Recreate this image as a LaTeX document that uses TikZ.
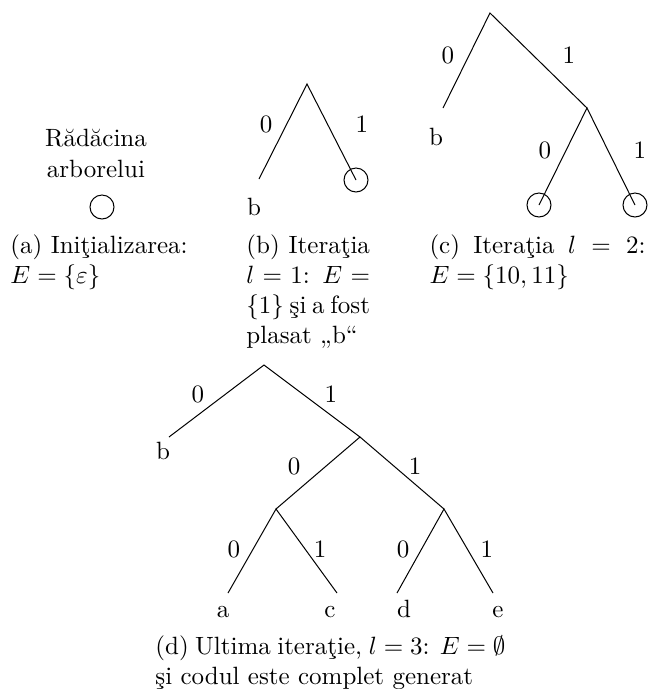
\documentclass[tikz,border=0pt]{standalone}
\usepackage{amssymb}
\begin{document}
\begin{tikzpicture}[x=0.4pt,y=-0.4pt,
  leafc/.style={draw,circle,minimum size=9.6pt,inner sep=0pt},
  lbl/.style={anchor=base,inner sep=0pt},
  captxt/.style={anchor=north west,inner sep=0pt,align=justify},
  treeline/.style={line width=0.4pt}]
\useasboundingbox (0,0) rectangle (650,689);

% ---------- (a)
\node[lbl] (rad) at (96,146) {Rădăcina};
\node[lbl] (arb) at (96,177) {arborelui};
\node[leafc] (a0) at (102,207) {};
\node[captxt,text width=72pt,align=left] (capa) at (10,234)
  {(a) Iniţializarea:\\ $E=\{\varepsilon\}$};

% ---------- (b)
\coordinate (broot) at (307,84);
\coordinate (bb) at (259,179);
\node[leafc] (bc) at (356,180) {};
\draw[treeline] (bb) -- (broot) -- (bc.center);
\node[lbl] (b0) at (266,132) {0};
\node[lbl] (b1) at (362,132) {1};
\node[lbl] (bbl) at (254,215) {b};
\node[captxt,text width=49.4pt] (capb) at (246,234)
  {(b) Iteraţia\linebreak $l = 1$: $E =$\linebreak $\{1\}$ şi a fost\linebreak plasat „b“};

% ---------- (c)
\coordinate (croot) at (490,13);
\coordinate (cb) at (443,108);
\coordinate (c1) at (587,108);
\node[leafc] (c10) at (539,205) {};
\node[leafc] (c11) at (635,205) {};
\draw[treeline] (cb) -- (croot) -- (c1);
\draw[treeline] (c10.center) -- (c1) -- (c11.center);
\node[lbl] (cl0) at (448,63) {0};
\node[lbl] (cl1) at (569,63) {1};
\node[lbl] (cbl) at (436,145) {b};
\node[lbl] (cl10) at (545,158) {0};
\node[lbl] (cl11) at (640,158) {1};
\node[captxt,text width=86.4pt] (capc) at (429,234)
  {(c) Iteraţia $l = 2$:\linebreak $E=\{10,11\}$};

% ---------- (d)
\coordinate (droot) at (264,365);
\coordinate (db) at (169,437);
\coordinate (d1) at (360,437);
\coordinate (d10) at (276,509);
\coordinate (d11) at (444,509);
\coordinate (da) at (228,593);
\coordinate (dc) at (337,593);
\coordinate (dd) at (397,593);
\coordinate (de) at (493,593);
\draw[treeline] (db) -- (droot) -- (d1);
\draw[treeline] (d10) -- (d1) -- (d11);
\draw[treeline] (da) -- (d10) -- (dc);
\draw[treeline] (dd) -- (d11) -- (de);
\node[lbl] (dl0) at (198,402) {0};
\node[lbl] (dl1) at (331,402) {1};
\node[lbl] (dbl) at (163,459) {b};
\node[lbl] (dl10) at (294,474) {0};
\node[lbl] (dl11) at (415,474) {1};
\node[lbl] (dl100) at (234,557) {0};
\node[lbl] (dl101) at (320,557) {1};
\node[lbl] (dl110) at (403,557) {0};
\node[lbl] (dl111) at (487,557) {1};
\node[lbl] (dal) at (223,617) {a};
\node[lbl] (dcl) at (330,617) {c};
\node[lbl] (ddl) at (404,617) {d};
\node[lbl] (del) at (498,617) {e};
\node[captxt,text width=140pt] (capd) at (155,635)
  {(d) Ultima iteraţie, $l = 3$: $E = \emptyset$\linebreak şi codul este complet generat};
\end{tikzpicture}
\end{document}
